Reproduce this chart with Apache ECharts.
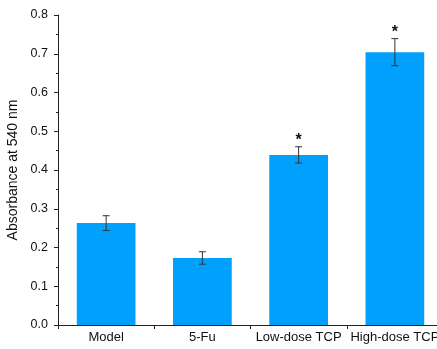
<!DOCTYPE html>
<html>
<head>
<meta charset="utf-8">
<script src="https://cdn.jsdelivr.net/npm/echarts@6/dist/echarts.min.js"></script>
<style>html,body{margin:0;padding:0;background:#fff}#c{width:437px;height:349px}</style>
</head>
<body>
<div id="c"></div>
<script>
var categories = ['Model', '5-Fu', 'Low-dose TCP', 'High-dose TCP'];
var means = [0.263, 0.173, 0.439, 0.704];
var errors = [0.019, 0.016, 0.021, 0.035];
var marks = ['', '', '*', '*'];
var yTicks = [0.0, 0.1, 0.2, 0.3, 0.4, 0.5, 0.6, 0.7, 0.8];

var chart = echarts.init(document.getElementById('c'));
var errData = categories.map(function (c, i) { return [i, means[i] - errors[i], means[i] + errors[i], marks[i]]; });
var font = 'Liberation Sans, Arial, sans-serif';
chart.setOption({
  animation: false,
  grid: { left: 58, top: 15, width: 385, height: 310, outerBoundsMode: 'none', containLabel: false },
  xAxis: {
    type: 'category',
    data: categories,
    axisLine: { lineStyle: { color: '#222', width: 1 } },
    axisTick: { show: true, length: 4, inside: false, alignWithLabel: false, lineStyle: { color: '#222' } },
    axisLabel: { color: '#111', fontSize: 13, fontFamily: font, margin: 6, interval: 0 },
    splitLine: { show: false }
  },
  yAxis: {
    type: 'value',
    min: yTicks[0], max: yTicks[yTicks.length - 1], interval: 0.1,
    name: 'Absorbance at 540 nm',
    nameLocation: 'middle',
    nameGap: 30.5,
    nameTextStyle: { color: '#111', fontSize: 14, fontFamily: font },
    axisLine: { show: true, lineStyle: { color: '#222', width: 1 } },
    axisTick: { show: true, length: 4, lineStyle: { color: '#222' } },
    minorTick: { show: true, splitNumber: 2, length: 2, lineStyle: { color: '#222' } },
    axisLabel: { color: '#111', fontSize: 12.5, fontFamily: font, margin: 10,
      formatter: function (v) { return v.toFixed(1); } },
    splitLine: { show: false }
  },
  series: [
    {
      type: 'bar',
      data: means,
      barWidth: '61%',
      itemStyle: { color: '#00A0FC' }
    },
    {
      type: 'custom',
      data: errData,
      z: 10,
      renderItem: function (params, api) {
        var x = api.value(0);
        var lo = api.coord([x, api.value(1)]);
        var hi = api.coord([x, api.value(2)]);
        var hw = 3.5;
        var children = [
          { type: 'line', shape: { x1: lo[0], y1: lo[1], x2: hi[0], y2: hi[1] }, style: { stroke: '#333', lineWidth: 1 } },
          { type: 'line', shape: { x1: lo[0] - hw, y1: lo[1], x2: lo[0] + hw, y2: lo[1] }, style: { stroke: '#333', lineWidth: 1 } },
          { type: 'line', shape: { x1: hi[0] - hw, y1: hi[1], x2: hi[0] + hw, y2: hi[1] }, style: { stroke: '#333', lineWidth: 1 } }
        ];
        var m = errData[params.dataIndex][3];
        if (m) {
          children.push({ type: 'text', style: { text: m, x: hi[0], y: hi[1] - 6.5, align: 'center', verticalAlign: 'middle',
            fill: '#111', font: 'bold 16px ' + font } });
        }
        return { type: 'group', children: children };
      }
    }
  ]
});
</script>
</body>
</html>
